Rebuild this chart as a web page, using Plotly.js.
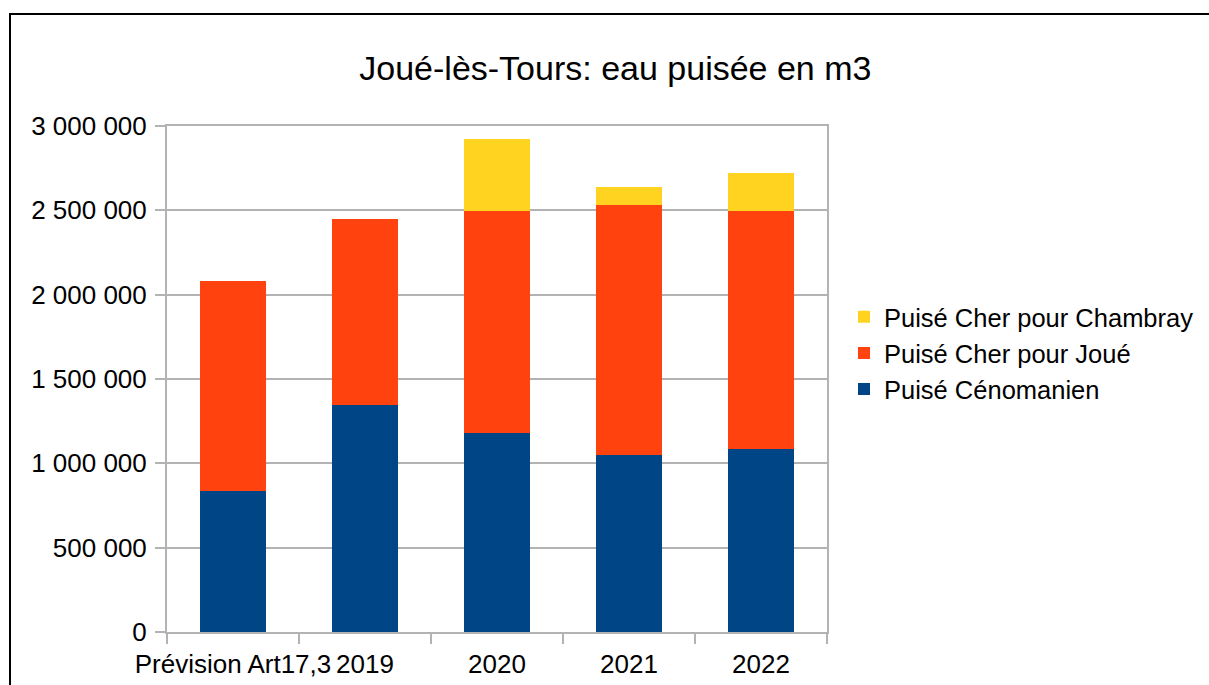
<!DOCTYPE html>
<html>
<head>
<meta charset="utf-8">
<script src="https://cdn.plot.ly/plotly-3.0.1.min.js"></script>
<style>
  html, body { margin: 0; padding: 0; background: #fff; overflow: hidden; }
  #chart { width: 1209px; height: 685px; }
</style>
</head>
<body>
<div id="chart"></div>
<script>
// Data (m3)
const categories = ["Prévision Art17,3", "2019", "2020", "2021", "2022"];
const cenomanien = [836000, 1346000, 1178000, 1048000, 1085000];
const cherJoue = [1244000, 1101000, 1318000, 1482000, 1411000];
const cherChambray = [0, 0, 425000, 107000, 224000];
const seriesNames = ["Puisé Cénomanien", "Puisé Cher pour Joué", "Puisé Cher pour Chambray"];
const seriesColors = ["#004586", "#ff420e", "#ffd320"];
const yTicks = [0, 500000, 1000000, 1500000, 2000000, 2500000, 3000000];

const allSeries = [cenomanien, cherJoue, cherChambray];
const traces = allSeries.map((vals, i) => ({
  type: "bar",
  name: seriesNames[i],
  x: categories,
  y: vals,
  legendgroup: "g" + i,
  legendrank: 1000 - i,
  marker: { color: seriesColors[i], line: { width: 0 } },
  hoverinfo: "x+y+name"
}));

const font = "Liberation Sans, Arial, sans-serif";

const layout = {
  width: 1209,
  height: 685,
  paper_bgcolor: "#ffffff",
  plot_bgcolor: "#ffffff",
  barmode: "stack",
  bargap: 0.5,
  separators: ", ",
  font: { family: font, size: 26, color: "#000000" },
  margin: { l: 167, r: 382, t: 126, b: 53, pad: 0, autoexpand: false },
  title: {
    text: "Joué-lès-Tours: eau puisée en m3",
    font: { family: font, size: 34, color: "#000000" },
    xref: "container", yref: "container",
    x: 0.5090, xanchor: "center",
    y: 0.9007, yanchor: "middle"
  },
  xaxis: {
    type: "category",
    tickson: "boundaries",
    ticks: "outside",
    ticklen: 10,
    tickcolor: "#b3b3b3",
    tickwidth: 2,
    tickangle: 0,
    showgrid: false,
    showline: true,
    linecolor: "#b3b3b3",
    linewidth: 2,
    mirror: true,
    tickfont: { family: font, size: 26, color: "#000000" },
    ticklabelstandoff: 8,
    zeroline: false,
    automargin: false
  },
  yaxis: {
    range: [0, 3000000],
    tickvals: yTicks,
    tickformat: ",d",
    ticks: "outside",
    ticklen: 10,
    tickcolor: "#b3b3b3",
    tickwidth: 2,
    showgrid: true,
    gridcolor: "#b3b3b3",
    gridwidth: 2,
    showline: true,
    linecolor: "#b3b3b3",
    linewidth: 2,
    mirror: true,
    zeroline: false,
    automargin: false,
    tickfont: { family: font, size: 26, color: "#000000" },
    ticklabelstandoff: 3
  },
  showlegend: true,
  legend: {
    x: (844 - 167) / 660, xanchor: "left",
    y: 0.551, yanchor: "middle",
    traceorder: "grouped",
    tracegroupgap: 0,
    font: { family: font, size: 25.5, color: "#000000" },
    bgcolor: "rgba(0,0,0,0)",
    borderwidth: 0
  },
  shapes: [{
    type: "rect",
    xref: "paper", yref: "paper",
    x0: (10 - 167) / 660, x1: (1260 - 167) / 660,
    y0: (632 - 740) / 506, y1: (632 - 14) / 506,
    line: { color: "#000000", width: 2 },
    fillcolor: "rgba(0,0,0,0)",
    layer: "above"
  }]
};

Plotly.newPlot("chart", traces, layout, { displayModeBar: false, staticPlot: true });
</script>
</body>
</html>
